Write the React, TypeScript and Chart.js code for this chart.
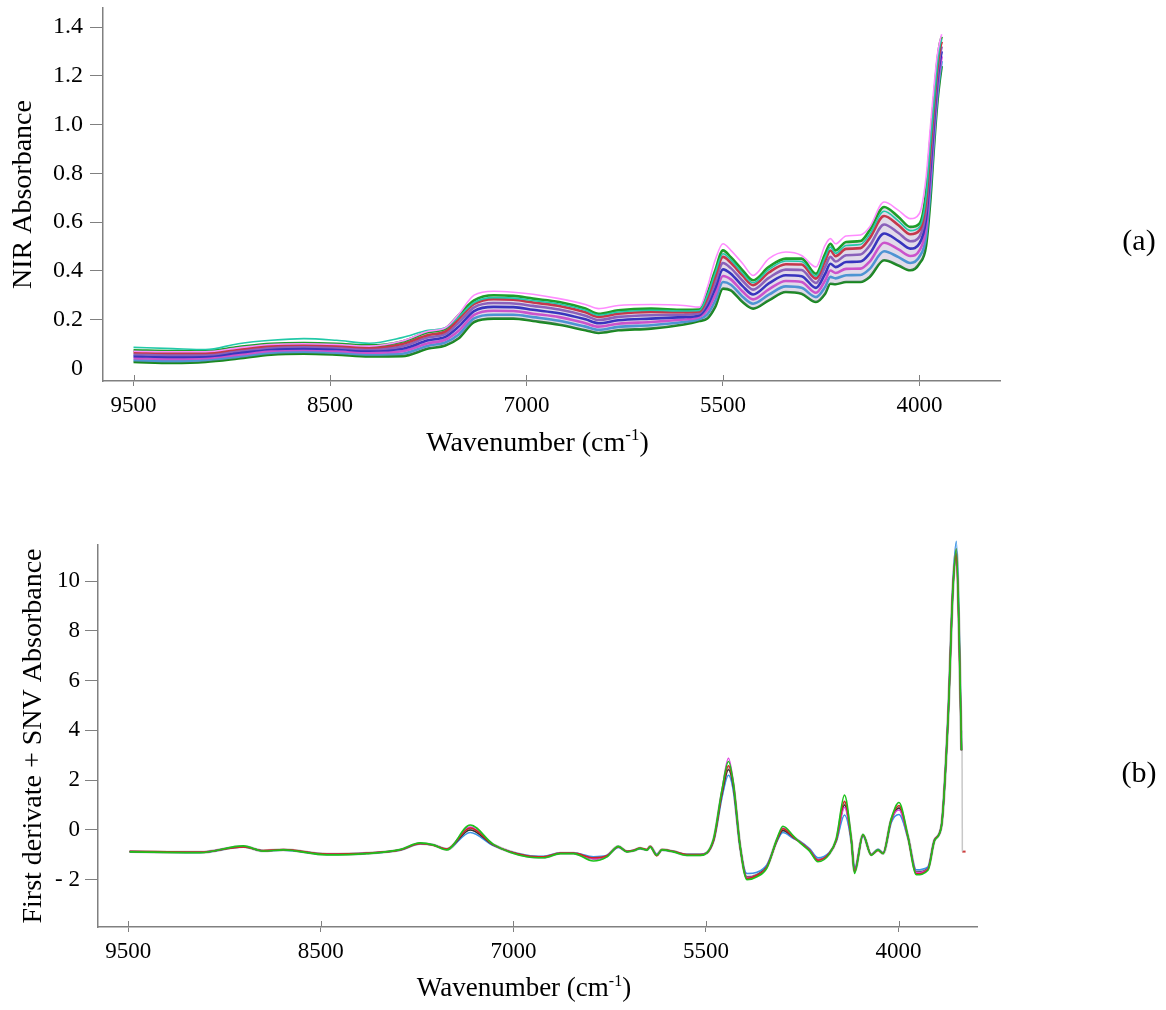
import React, { useEffect, useRef } from 'react';
import { Chart, registerables } from 'chart.js';

Chart.register(...registerables);

// ---------------- shared axis text ----------------
const X_TICK_VALUES = [10000, 8500, 7000, 5500, 4000];
const X_TICK_LABELS = ['9500', '8500', '7000', '5500', '4000'];
const X_TITLE = 'Wavenumber (cm';
const X_TITLE_SUP = '-1';
const X_TITLE_TAIL = ')';

// ---------------- panel (a) ----------------
const TOP_Y_TICKS = [0, 0.2, 0.4, 0.6, 0.8, 1.0, 1.2, 1.4];
const TOP_Y_LABELS = ['0', '0.2', '0.4', '0.6', '0.8', '1.0', '1.2', '1.4'];
const TOP_Y_TITLE = 'NIR Absorbance';
const TOP_PANEL = '(a)';

const TOP_WN = [10000, 9700, 9450, 9200, 8950, 8700, 8450, 8200, 7950, 7750, 7620, 7520, 7400, 7250, 7100, 6950, 6750, 6550, 6450, 6300, 6050, 5800, 5680, 5620, 5560, 5500, 5440, 5350, 5270, 5150, 5020, 4900, 4790, 4720, 4680, 4640, 4560, 4450, 4380, 4270, 4160, 4070, 4000, 3950, 3915, 3890, 3865, 3845, 3830];

const TOP_PINK = [0.070, 0.068, 0.068, 0.084, 0.098, 0.101, 0.098, 0.091, 0.112, 0.152, 0.166, 0.220, 0.300, 0.316, 0.312, 0.304, 0.286, 0.262, 0.245, 0.258, 0.262, 0.258, 0.251, 0.330, 0.443, 0.511, 0.484, 0.430, 0.381, 0.450, 0.477, 0.463, 0.416, 0.505, 0.532, 0.511, 0.543, 0.547, 0.580, 0.682, 0.648, 0.614, 0.635, 0.780, 1.000, 1.150, 1.280, 1.340, 1.370];
const TOP_CYAN = [0.086, 0.081, 0.077, 0.101, 0.115, 0.122, 0.115, 0.103, 0.126, 0.156, 0.166, 0.210, 0.270, 0.290, 0.288, 0.278, 0.264, 0.238, 0.218, 0.231, 0.238, 0.235, 0.237, 0.298, 0.390, 0.470, 0.445, 0.390, 0.351, 0.405, 0.440, 0.438, 0.378, 0.456, 0.497, 0.472, 0.504, 0.508, 0.550, 0.644, 0.604, 0.565, 0.580, 0.700, 0.930, 1.080, 1.235, 1.318, 1.350];
const TOP_S1 = [0.074, 0.071, 0.071, 0.087, 0.101, 0.104, 0.101, 0.094, 0.110, 0.149, 0.163, 0.217, 0.279, 0.300, 0.297, 0.286, 0.272, 0.245, 0.224, 0.238, 0.245, 0.240, 0.241, 0.306, 0.400, 0.484, 0.456, 0.402, 0.361, 0.416, 0.450, 0.450, 0.388, 0.470, 0.511, 0.484, 0.518, 0.522, 0.566, 0.662, 0.621, 0.580, 0.594, 0.720, 0.950, 1.100, 1.250, 1.330, 1.360];
const TOP_S2 = [0.066, 0.063, 0.063, 0.079, 0.093, 0.097, 0.093, 0.086, 0.100, 0.137, 0.151, 0.201, 0.264, 0.284, 0.281, 0.270, 0.256, 0.230, 0.211, 0.224, 0.231, 0.230, 0.233, 0.289, 0.375, 0.457, 0.433, 0.380, 0.341, 0.393, 0.427, 0.426, 0.368, 0.442, 0.483, 0.460, 0.490, 0.493, 0.534, 0.625, 0.587, 0.550, 0.566, 0.683, 0.908, 1.066, 1.221, 1.305, 1.340];
const TOP_S3 = [0.058, 0.055, 0.056, 0.072, 0.086, 0.090, 0.086, 0.079, 0.090, 0.127, 0.140, 0.186, 0.250, 0.268, 0.266, 0.256, 0.241, 0.216, 0.198, 0.211, 0.218, 0.220, 0.226, 0.272, 0.351, 0.432, 0.411, 0.359, 0.323, 0.371, 0.405, 0.403, 0.350, 0.416, 0.457, 0.438, 0.464, 0.467, 0.503, 0.590, 0.555, 0.521, 0.540, 0.647, 0.868, 1.034, 1.194, 1.280, 1.320];
const TOP_S4 = [0.050, 0.047, 0.049, 0.064, 0.079, 0.082, 0.079, 0.072, 0.080, 0.115, 0.129, 0.170, 0.235, 0.252, 0.251, 0.240, 0.226, 0.201, 0.185, 0.197, 0.204, 0.210, 0.218, 0.255, 0.326, 0.406, 0.388, 0.337, 0.303, 0.348, 0.382, 0.378, 0.330, 0.388, 0.429, 0.415, 0.436, 0.438, 0.471, 0.553, 0.522, 0.491, 0.512, 0.610, 0.825, 1.000, 1.165, 1.255, 1.300];
const TOP_S5 = [0.042, 0.038, 0.041, 0.056, 0.071, 0.075, 0.071, 0.064, 0.070, 0.103, 0.117, 0.153, 0.219, 0.236, 0.235, 0.224, 0.210, 0.185, 0.171, 0.183, 0.190, 0.200, 0.210, 0.238, 0.300, 0.379, 0.365, 0.315, 0.283, 0.324, 0.358, 0.354, 0.310, 0.360, 0.401, 0.391, 0.408, 0.409, 0.438, 0.515, 0.488, 0.461, 0.484, 0.573, 0.783, 0.966, 1.136, 1.230, 1.280];
const TOP_S6 = [0.034, 0.030, 0.034, 0.048, 0.064, 0.068, 0.064, 0.057, 0.060, 0.093, 0.106, 0.138, 0.205, 0.220, 0.220, 0.210, 0.195, 0.171, 0.158, 0.170, 0.177, 0.190, 0.202, 0.221, 0.276, 0.354, 0.343, 0.294, 0.265, 0.302, 0.336, 0.330, 0.292, 0.334, 0.375, 0.369, 0.382, 0.383, 0.408, 0.480, 0.456, 0.432, 0.458, 0.537, 0.743, 0.934, 1.109, 1.205, 1.260];
const TOP_S7 = [0.026, 0.022, 0.026, 0.040, 0.056, 0.060, 0.056, 0.049, 0.050, 0.081, 0.094, 0.122, 0.190, 0.204, 0.204, 0.194, 0.179, 0.156, 0.145, 0.156, 0.163, 0.180, 0.194, 0.204, 0.251, 0.327, 0.320, 0.272, 0.245, 0.279, 0.313, 0.306, 0.272, 0.306, 0.347, 0.345, 0.354, 0.354, 0.375, 0.443, 0.422, 0.402, 0.430, 0.500, 0.700, 0.900, 1.080, 1.180, 1.240];

// ---------------- panel (b) ----------------
const BOT_Y_TICKS = [-2, 0, 2, 4, 6, 8, 10];
const BOT_Y_LABELS = ['- 2', '0', '2', '4', '6', '8', '10'];
const BOT_Y_TITLE = 'First derivate + SNV Absorbance';
const BOT_PANEL = '(b)';

const BOT_WN = [9990, 9441, 9104, 8948, 8792, 8454, 8142, 7883, 7727, 7626, 7519, 7337, 7156, 6896, 6766, 6636, 6532, 6377, 6272, 6182, 6116, 6065, 6013, 5960, 5935, 5883, 5844, 5753, 5649, 5545, 5441, 5376, 5325, 5286, 5234, 5181, 5103, 5025, 4947, 4901, 4818, 4771, 4693, 4628, 4538, 4485, 4421, 4368, 4343, 4277, 4213, 4160, 4121, 4057, 3997, 3927, 3862, 3771, 3719, 3667, 3615, 3576, 3550, 3528, 3510];

const BOT_GREEN = [-0.88, -0.91, -0.64, -0.85, -0.80, -1.00, -0.95, -0.79, -0.52, -0.60, -0.80, 0.20, -0.58, -1.08, -1.12, -0.95, -0.95, -1.25, -1.08, -0.66, -0.88, -0.84, -0.74, -0.81, -0.68, -1.02, -0.80, -0.88, -1.02, -1.02, -0.35, 1.60, 2.75, 1.85, -0.65, -2.00, -1.88, -1.52, -0.35, 0.15, -0.25, -0.50, -0.85, -1.28, -0.96, -0.35, 1.40, -0.38, -1.75, -0.18, -1.02, -0.80, -0.95, 0.45, 1.10, -0.25, -1.80, -1.62, -0.42, 0.12, 4.40, 9.70, 11.30, 7.90, 3.20];
const BOT_RED = [-0.86, -0.89, -0.68, -0.83, -0.79, -0.97, -0.93, -0.80, -0.55, -0.61, -0.77, 0.08, -0.60, -1.04, -1.08, -0.93, -0.93, -1.12, -1.04, -0.68, -0.86, -0.82, -0.73, -0.79, -0.66, -1.04, -0.79, -0.86, -0.99, -0.99, -0.42, 1.50, 2.58, 1.78, -0.68, -1.95, -1.82, -1.48, -0.40, 0.05, -0.30, -0.48, -0.82, -1.22, -0.93, -0.40, 1.15, -0.40, -1.68, -0.20, -1.00, -0.82, -0.94, 0.42, 0.98, -0.28, -1.76, -1.58, -0.40, 0.14, 4.45, 9.80, 11.10, 7.70, 3.20];
const BOT_DARK = [-0.87, -0.90, -0.67, -0.84, -0.80, -0.98, -0.94, -0.80, -0.54, -0.60, -0.78, 0.00, -0.61, -1.05, -1.10, -0.94, -0.94, -1.15, -1.05, -0.67, -0.87, -0.83, -0.74, -0.80, -0.67, -1.00, -0.80, -0.87, -1.00, -1.00, -0.42, 1.42, 2.42, 1.70, -0.68, -1.90, -1.80, -1.46, -0.42, -0.02, -0.31, -0.47, -0.80, -1.20, -0.94, -0.42, 1.00, -0.42, -1.65, -0.21, -1.00, -0.80, -0.94, 0.38, 0.88, -0.28, -1.70, -1.55, -0.40, 0.13, 4.40, 9.75, 11.00, 7.80, 3.20];
const BOT_BLUE = [-0.87, -0.90, -0.68, -0.84, -0.81, -0.97, -0.93, -0.81, -0.56, -0.60, -0.77, -0.10, -0.63, -1.02, -1.06, -0.92, -0.92, -1.08, -1.02, -0.70, -0.86, -0.82, -0.75, -0.80, -0.68, -0.98, -0.81, -0.86, -0.98, -0.98, -0.45, 1.30, 2.20, 1.55, -0.72, -1.75, -1.70, -1.40, -0.45, -0.10, -0.35, -0.45, -0.76, -1.12, -0.90, -0.45, 0.60, -0.45, -1.55, -0.25, -0.98, -0.78, -0.92, 0.30, 0.62, -0.32, -1.60, -1.48, -0.38, 0.15, 4.50, 9.90, 11.60, 8.10, 3.20];
const BOT_MAGENTA = [-0.87, -0.89, -0.66, -0.84, -0.80, -0.98, -0.94, -0.80, -0.54, -0.60, -0.78, 0.12, -0.59, -1.06, -1.10, -0.94, -0.94, -1.16, -1.05, -0.67, -0.87, -0.83, -0.74, -0.80, -0.67, -1.00, -0.80, -0.87, -1.00, -1.00, -0.38, 1.60, 2.88, 1.90, -0.62, -1.92, -1.82, -1.48, -0.38, 0.08, -0.28, -0.47, -0.80, -1.20, -0.94, -0.40, 0.90, -0.40, -1.65, -0.20, -1.00, -0.80, -0.94, 0.40, 0.80, -0.27, -1.72, -1.56, -0.40, 0.13, 4.42, 9.77, 11.30, 7.80, 3.20];
const BOT_GRAY = [-0.87, -0.90, -0.67, -0.84, -0.80, -0.98, -0.94, -0.80, -0.54, -0.60, -0.78, 0.05, -0.60, -1.05, -1.10, -0.94, -0.94, -1.15, -1.05, -0.67, -0.87, -0.83, -0.74, -0.80, -0.67, -1.00, -0.80, -0.87, -1.00, -1.00, -0.40, 1.47, 2.50, 1.74, -0.67, -1.90, -1.80, -1.47, -0.40, 0.00, -0.30, -0.47, -0.80, -1.20, -0.94, -0.40, 1.05, -0.40, -1.65, -0.20, -1.00, -0.80, -0.94, 0.40, 0.90, -0.27, -1.68, -1.55, -0.40, 0.13, 4.42, 9.77, 11.20, 7.80, 3.20];
// trailing drop of the last sample and the end mark
const BOT_DROP_WN = [3506, 3503];
const BOT_DROP = [4.0, -0.87];
const BOT_END_WN = [3504, 3478];
const BOT_END = [-0.87, -0.87];

// ---------------- styling ----------------
const SERIF = '"Liberation Serif", "Times New Roman", Times, serif';
const AXIS_COLOR = '#808080';

const decorPlugin = {
  id: 'decor',
  afterDraw(chart: any, _args: any, opts: any) {
    const { ctx, chartArea } = chart;
    const xs = chart.scales.x;
    ctx.save();
    // inner half of the x tick marks
    ctx.strokeStyle = AXIS_COLOR;
    ctx.lineWidth = 1;
    for (const t of xs.ticks) {
      const px = Math.round(xs.getPixelForValue(t.value)) + 0.5;
      ctx.beginPath();
      ctx.moveTo(px, chartArea.bottom);
      ctx.lineTo(px, chartArea.bottom - opts.innerTick);
      ctx.stroke();
    }
    // x-axis title with superscript
    const mainFont = `${opts.titleSize}px ${SERIF}`;
    const supFont = `${Math.round(opts.titleSize * 0.6)}px ${SERIF}`;
    ctx.fillStyle = '#000';
    ctx.textBaseline = 'alphabetic';
    ctx.textAlign = 'left';
    ctx.font = mainFont;
    const w1 = ctx.measureText(X_TITLE).width;
    const w3 = ctx.measureText(X_TITLE_TAIL).width;
    ctx.font = supFont;
    const w2 = ctx.measureText(X_TITLE_SUP).width;
    const total = w1 + w2 + w3;
    const x0 = (chartArea.left + chartArea.right) / 2 + opts.titleShift - total / 2;
    ctx.font = mainFont;
    ctx.fillText(X_TITLE, x0, opts.titleBaseline);
    ctx.font = supFont;
    ctx.fillText(X_TITLE_SUP, x0 + w1, opts.titleBaseline - opts.titleSize * 0.38);
    ctx.font = mainFont;
    ctx.fillText(X_TITLE_TAIL, x0 + w1 + w2, opts.titleBaseline);
    // panel label
    ctx.font = `${opts.panelSize}px ${SERIF}`;
    ctx.textAlign = 'center';
    ctx.textBaseline = 'middle';
    ctx.fillText(opts.panel, opts.panelX, opts.panelY);
    ctx.restore();
  },
};

function series(wn: number[], values: number[], color: string, width: number, fill: any = false, fillColor?: string) {
  return {
    data: wn.map((x, i) => ({ x, y: values[i] })),
    borderColor: color,
    backgroundColor: fillColor || color,
    borderWidth: width,
    pointRadius: 0,
    fill,
    cubicInterpolationMode: 'monotone',
    clip: false,
  };
}

function xScale(min: number, max: number, height: number) {
  return {
    type: 'linear',
    reverse: true,
    min,
    max,
    afterBuildTicks: (s: any) => {
      s.ticks = X_TICK_VALUES.map((value) => ({ value }));
    },
    afterFit: (s: any) => {
      s.height = height;
      s.paddingLeft = 0;
      s.paddingRight = 0;
    },
    ticks: {
      autoSkip: false,
      maxRotation: 0,
      padding: 6,
      color: '#000',
      font: { family: SERIF, size: 23 },
      callback: (_v: any, i: number) => X_TICK_LABELS[i],
    },
    grid: { drawOnChartArea: false, drawTicks: true, tickLength: 5, tickColor: AXIS_COLOR, tickWidth: 1 },
    border: { display: true, color: AXIS_COLOR, width: 1.5 },
  };
}

function yScale(
  min: number,
  max: number,
  ticks: number[],
  labels: string[],
  width: number,
  pad: number,
  fontSize: number,
  title: string,
  titlePad: number,
  hideZeroTick: boolean
) {
  return {
    type: 'linear',
    min,
    max,
    afterBuildTicks: (s: any) => {
      s.ticks = ticks.map((value) => ({ value }));
    },
    afterFit: (s: any) => {
      s.width = width;
      s.paddingTop = 0;
      s.paddingBottom = 0;
    },
    ticks: {
      autoSkip: false,
      padding: pad,
      color: '#000',
      font: { family: SERIF, size: fontSize },
      callback: (_v: any, i: number) => labels[i],
    },
    grid: {
      drawOnChartArea: false,
      drawTicks: true,
      tickLength: 13,
      tickWidth: 1,
      tickColor: (c: any) => (hideZeroTick && c.tick && c.tick.value === 0 ? 'rgba(0,0,0,0)' : AXIS_COLOR),
    },
    border: { display: true, color: AXIS_COLOR, width: 1.5 },
    title: {
      display: true,
      text: title,
      color: '#000',
      font: { family: SERIF, size: 28 },
      padding: { top: titlePad, bottom: 0 },
    },
  };
}

function topConfig(): any {
  return {
    type: 'line',
    data: {
      datasets: [
        series(TOP_WN, TOP_PINK, '#ff8cff', 1.6),
        series(TOP_WN, TOP_CYAN, '#22c9a8', 1.6),
        series(TOP_WN, TOP_S1, '#1e9e2a', 2.6, '+6', 'rgba(140,110,170,0.25)'),
        series(TOP_WN, TOP_S2, '#d9262b', 2.6),
        series(TOP_WN, TOP_S3, '#8a5cc0', 2.6),
        series(TOP_WN, TOP_S4, '#1c22c4', 2.6),
        series(TOP_WN, TOP_S5, '#e04ad6', 2.6),
        series(TOP_WN, TOP_S6, '#3aa0e0', 2.6),
        series(TOP_WN, TOP_S7, '#168a1c', 2.6),
      ],
    },
    options: {
      animation: false,
      responsive: false,
      events: [],
      layout: { padding: { left: 0, right: 166, top: 8, bottom: 0 } },
      plugins: {
        legend: { display: false },
        tooltip: { enabled: false },
        filler: { propagate: false },
        decor: {
          innerTick: 6,
          titleSize: 28,
          titleShift: -14,
          titleBaseline: 451,
          panel: TOP_PANEL,
          panelSize: 30,
          panelX: 1139,
          panelY: 242,
        },
      },
      scales: {
        x: xScale(3385, 10233, 89),
        y: yScale(-0.052, 1.478, TOP_Y_TICKS, TOP_Y_LABELS, 103, 7, 24, TOP_Y_TITLE, 6.5, true),
      },
    },
    plugins: [decorPlugin],
  };
}

function bottomConfig(): any {
  return {
    type: 'line',
    data: {
      datasets: [
        series(BOT_WN, BOT_GREEN, '#1cc21c', 1.6),
        series(BOT_WN, BOT_RED, '#d42424', 1.6),
        series(BOT_WN, BOT_MAGENTA, '#e040e0', 1.4),
        series(BOT_WN, BOT_DARK, '#333333', 1.4),
        series(BOT_WN, BOT_BLUE, '#3b93e6', 1.6),
        series(BOT_WN, BOT_GRAY, '#b8b8b8', 3),
        series(BOT_DROP_WN, BOT_DROP, '#c8c8c8', 1.5),
        series(BOT_END_WN, BOT_END, '#cc3a3a', 2),
      ],
    },
    options: {
      animation: false,
      responsive: false,
      events: [],
      layout: { padding: { left: 0, right: 189, top: 75, bottom: 0 } },
      plugins: {
        legend: { display: false },
        tooltip: { enabled: false },
        decor: {
          innerTick: 6,
          titleSize: 27,
          titleShift: -13.5,
          titleBaseline: 526,
          panel: BOT_PANEL,
          panelSize: 30,
          panelX: 1139,
          panelY: 304,
        },
      },
      scales: {
        x: xScale(3389, 10236, 83),
        y: yScale(-3.9, 11.45, BOT_Y_TICKS, BOT_Y_LABELS, 98, 5, 23, BOT_Y_TITLE, 17, false),
      },
    },
    plugins: [decorPlugin],
  };
}

function ChartCanvas({ makeConfig, width, height, top }: { makeConfig: () => any; width: number; height: number; top: number }) {
  const ref = useRef<HTMLCanvasElement | null>(null);
  useEffect(() => {
    if (!ref.current) return;
    const chart = new Chart(ref.current, makeConfig());
    return () => chart.destroy();
  }, [makeConfig]);
  return (
    <canvas
      ref={ref}
      width={width}
      height={height}
      style={{ position: 'absolute', left: 0, top, width, height, display: 'block' }}
    />
  );
}

export default function App() {
  return (
    <div style={{ position: 'absolute', left: 0, top: 0, width: 1166, height: 1010, background: '#ffffff', overflow: 'hidden' }}>
      <ChartCanvas makeConfig={topConfig} width={1166} height={470} top={0} />
      <ChartCanvas makeConfig={bottomConfig} width={1166} height={540} top={470} />
    </div>
  );
}
